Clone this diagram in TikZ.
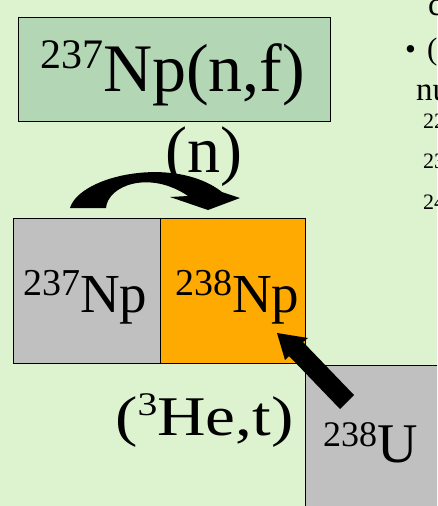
\documentclass[tikz,border=0pt]{standalone}
\usepackage{fontspec}
\setmainfont{Liberation Serif}
\definecolor{bgc}{RGB}{221,243,207}
\definecolor{boxg}{RGB}{179,214,181}
\definecolor{greyc}{RGB}{192,192,192}
\definecolor{orangec}{RGB}{255,170,0}
\newcommand\txsz[1]{\fontsize{#1pt}{#1pt}\selectfont}
\newcommand\supnum[3]{\raisebox{#3pt}{\txsz{#2}#1}}
\begin{document}
\begin{tikzpicture}[x=1pt,y=-1pt,
  cell/.style={draw=black,line width=1.2pt,inner sep=0pt,anchor=north west},
  lbl/.style={inner sep=0pt,anchor=base west}]
\useasboundingbox (0,0) rectangle (437,506);
\clip (0,0) rectangle (437,506);
\fill[bgc] (0,0) rectangle (437,506);
% boxes
\node[cell,fill=boxg,minimum width=312pt,minimum height=104pt] (fbox) at (18,17) {};
\node[cell,fill=greyc,minimum width=147pt,minimum height=145pt] (np237) at (13,218) {};
\node[cell,fill=orangec,minimum width=145pt,minimum height=145pt] (np238) at (160,218) {};
\node[cell,fill=greyc,minimum width=160pt,minimum height=160pt] (u238) at (305,365) {};
% labels
\node[lbl] (tfbox) at (40,91) {\supnum{237}{42}{23}\txsz{68}Np(n,f)};
\node[lbl] (tn) at (165,172) {\txsz{66}(n)};
\node[lbl] (tnp237) at (23,312) {\supnum{237}{38}{17}\txsz{55}Np};
\node[lbl] (tnp238) at (175,312) {\supnum{238}{38}{17}\txsz{55}Np};
\node[lbl] (tu238) at (323,462) {\supnum{238}{36}{16}\txsz{56}U};
\node[lbl] (the) at (115,435) {\scalebox{1.2}[1]{\txsz{56}(\supnum{3}{33}{20}He,t)}};
% right-side fragments
\node[lbl] (fc) at (428,15) {\txsz{33}c};
\node[lbl] (fb) at (405,59) {\txsz{31}•};
\node[lbl] (fp) at (427,59) {\txsz{31}(};
\node[lbl] (fn) at (416,100) {\txsz{33}nu};
\node[lbl] (f22) at (423,128) {\txsz{22}22};
\node[lbl] (f23) at (423,168) {\txsz{22}23};
\node[lbl] (f24) at (423,209) {\txsz{22}24};
% curved arrow (n)
\fill[black] (70,208) .. controls (80,175) and (175,155) .. (222,192) -- (240,198) -- (208,210) -- (170,197) -- (188,196) .. controls (150,170) and (108,185) .. (106,208) -- cycle;
% straight arrow (3He,t)
\fill[black] (277,333) -- (308,338) -- (303,342) -- (354,395) -- (340,409) -- (289,356) -- (285,360) -- cycle;
\end{tikzpicture}
\end{document}
